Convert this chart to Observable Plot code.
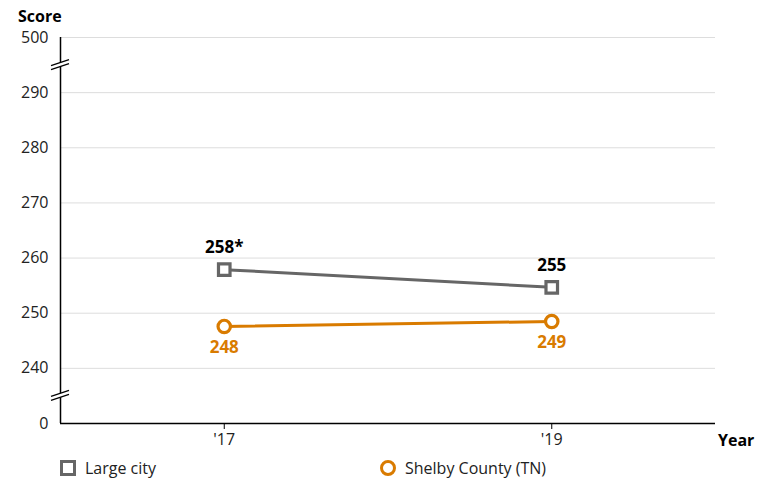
<!DOCTYPE html>
<html>
<head>
<meta charset="utf-8">
<script src="https://cdn.jsdelivr.net/npm/d3@7"></script>
<script src="https://cdn.jsdelivr.net/npm/@observablehq/plot@0.6"></script>
<style>
  body { margin: 0; background: #fff; font-family: "Open Sans", sans-serif; }
  #chart { position: relative; width: 772px; }
  #chart svg text { font-family: "Open Sans", sans-serif; }
  .legend { position: relative; height: 33px; font-size: 16px; color: #222; }
  .item { position: absolute; top: 0; display: flex; align-items: center; height: 24px; }
  .sw { width: 10px; height: 10px; border: 3px solid #666; background: #fff; margin-right: 9px; }
  .sw.c { border-color: #d97b00; border-radius: 50%; }
</style>
</head>
<body>
<div id="chart"></div>
<script>
const years = [2017, 2019];
const largeCity = [257.9, 254.7];
const shelby = [247.6, 248.5];
const largeLabels = ["258*", "255"];
const shelbyLabels = ["248", "249"];
const yTicks = [230, 240, 250, 260, 270, 280, 290, 300];
const yTickLabels = ["0", "240", "250", "260", "270", "280", "290", "500"];
const xTicks = [2017, 2019];
const xTickLabels = ["'17", "'19"];
const seriesNames = ["Large city", "Shelby County (TN)"];
const colors = ["#666666", "#d97b00"];

const large = years.map((y, i) => ({year: y, value: largeCity[i], label: largeLabels[i]}));
const shel = years.map((y, i) => ({year: y, value: shelby[i], label: shelbyLabels[i]}));

const plot = Plot.plot({
  width: 772,
  height: 450,
  marginLeft: 60,
  marginRight: 57,
  marginTop: 37,
  marginBottom: 27,
  style: {fontFamily: "Open Sans, sans-serif", fontSize: "16px", color: "#222", background: "#fff"},
  x: {domain: [2016, 2020], label: null},
  y: {domain: [230, 300], label: null},
  marks: [
    Plot.gridY(yTicks.filter(d => d > 230), {stroke: "#ddd", strokeOpacity: 1, strokeWidth: 1}),
    Plot.ruleX([2016], {stroke: "#000", strokeWidth: 1.5}),
    Plot.ruleY([230], {stroke: "#000", strokeWidth: 1.5}),
    Plot.line(large, {x: "year", y: "value", stroke: colors[0], strokeWidth: 3}),
    Plot.line(shel, {x: "year", y: "value", stroke: colors[1], strokeWidth: 3}),
    Plot.dot(large, {x: "year", y: "value", symbol: "square", r: 6.5, stroke: colors[0], strokeWidth: 3.2, fill: "#fff"}),
    Plot.dot(shel, {x: "year", y: "value", symbol: "circle", r: 6.2, stroke: colors[1], strokeWidth: 3.2, fill: "#fff"}),
    Plot.text(large, {x: "year", y: "value", text: "label", dy: -22, fill: "#000", fontWeight: "bold", fontSize: 17}),
    Plot.text(shel, {x: "year", y: "value", text: "label", dy: 21, fill: colors[1], fontWeight: "bold", fontSize: 17}),
    Plot.axisX({ticks: xTicks, tickFormat: d => xTickLabels[xTicks.indexOf(d)], tickSize: 6, tickPadding: 4, label: null, fill: "#222", stroke: "#000", fontSize: 16}),
    Plot.axisY({ticks: yTicks, tickFormat: d => yTickLabels[yTicks.indexOf(d)], tickSize: 0, tickPadding: 12, label: null, fill: "#222", fontSize: 16})
  ]
});

// axis titles and break marks, placed through the plot's scales
const svg = d3.select(plot);
const xs = plot.scale("x"), ys = plot.scale("y");
const x0 = xs.apply(2016);
svg.append("text").attr("x", 18).attr("y", 22).attr("text-anchor", "start")
  .style("font-weight", "bold").style("font-size", "16px").attr("fill", "#000").text("Score");
svg.append("text").attr("x", xs.apply(2020) + 3).attr("y", ys.apply(230) + 23).attr("text-anchor", "start")
  .style("font-weight", "bold").style("font-size", "16px").attr("fill", "#000").text("Year");
for (const b of [295, 235]) {
  const yb = ys.apply(b);
  const g = svg.append("g");
  g.append("polygon").attr("points", `${x0-9},${yb+1} ${x0+9},${yb-5} ${x0+9},${yb-1} ${x0-9},${yb+5}`).attr("fill", "#fff");
  g.append("line").attr("x1", x0 - 9).attr("y1", yb + 1).attr("x2", x0 + 9).attr("y2", yb - 5).attr("stroke", "#000").attr("stroke-width", 1.2);
  g.append("line").attr("x1", x0 - 9).attr("y1", yb + 5).attr("x2", x0 + 9).attr("y2", yb - 1).attr("stroke", "#000").attr("stroke-width", 1.2);
}

document.getElementById("chart").appendChild(plot);

const legend = d3.select("#chart").append("div").attr("class", "legend");
const lx = [60, 380];
seriesNames.forEach((name, i) => {
  const it = legend.append("div").attr("class", "item").style("left", lx[i] + "px").style("top", "6px");
  it.append("div").attr("class", "sw" + (i === 1 ? " c" : "")).style("border-color", colors[i]);
  it.append("span").text(name);
});
</script>
</body>
</html>
